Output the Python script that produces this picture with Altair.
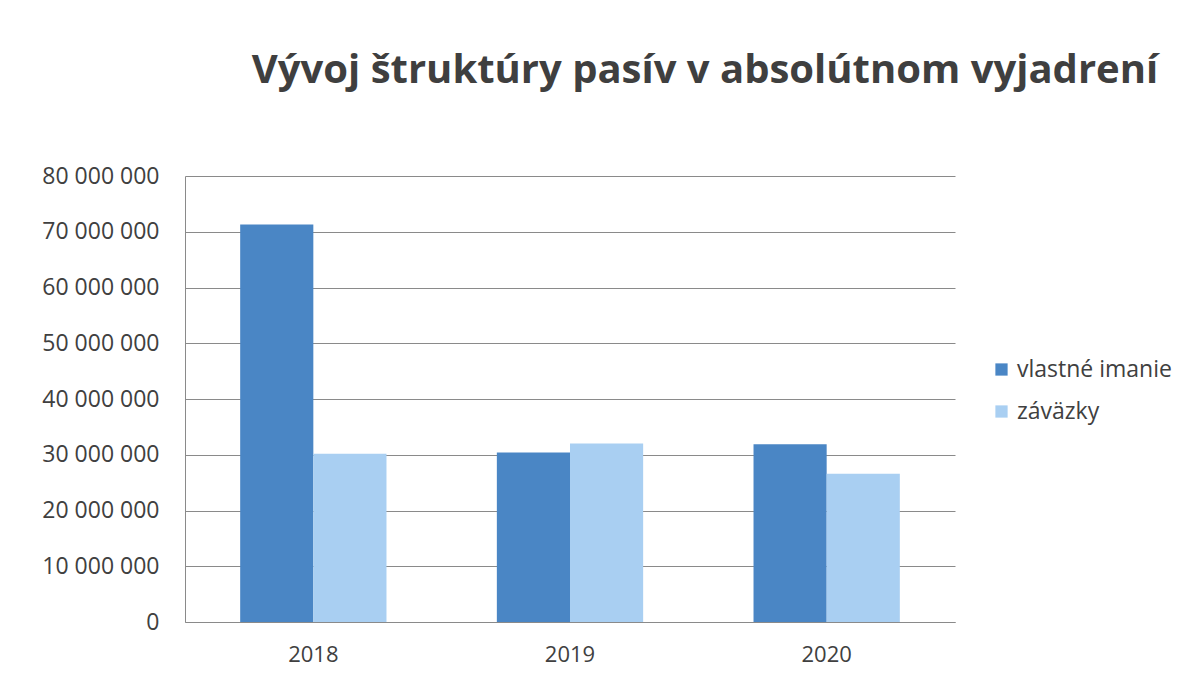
import altair as alt
import pandas as pd

years = ["2018", "2019", "2020"]
series_names = ["vlastné imanie", "záväzky"]
vlastne_imanie = [71300000, 30400000, 31900000]
zavazky = [30200000, 32000000, 26600000]
colors = ["#4A86C5", "#A9CFF2"]

rows = []
for i, y in enumerate(years):
    rows.append({"rok": y, "séria": series_names[0], "hodnota": vlastne_imanie[i]})
    rows.append({"rok": y, "séria": series_names[1], "hodnota": zavazky[i]})
df = pd.DataFrame(rows)

FONT = "Open Sans"

chart = alt.Chart(df).mark_bar().encode(
    x=alt.X("rok:N", sort=years, title=None,
            scale=alt.Scale(paddingInner=0.43, paddingOuter=0.215),
            axis=alt.Axis(labelAngle=0, ticks=False, domain=True, domainColor="#8a8a8a",
                          labelFontSize=22, labelColor="#404040", labelFont=FONT,
                          labelPadding=22, grid=False)),
    xOffset=alt.XOffset("séria:N", sort=series_names, scale=alt.Scale(paddingInner=0, paddingOuter=0)),
    y=alt.Y("hodnota:Q", title=None,
            scale=alt.Scale(domain=[0, 80000000]),
            axis=alt.Axis(values=list(range(0, 80000001, 10000000)),
                          labelExpr="replace(format(datum.value, ','), /,/g, ' ')",
                          labelFontSize=23, labelColor="#404040", labelFont=FONT,
                          labelPadding=26, ticks=False, domain=True, domainColor="#8a8a8a",
                          gridColor="#8a8a8a", gridWidth=1)),
    color=alt.Color("séria:N", sort=series_names,
                    scale=alt.Scale(domain=series_names, range=colors),
                    legend=alt.Legend(title=None, orient="none", legendX=805, legendY=182,
                                      symbolType="square", symbolSize=150, symbolStrokeWidth=0,
                                      labelFontSize=23, labelColor="#404040", labelFont=FONT,
                                      rowPadding=18, labelOffset=4)),
).properties(
    width=770,
    height=446,
    title=alt.TitleParams("Vývoj štruktúry pasív v absolútnom vyjadrení",
                          fontSize=40, font=FONT, fontWeight="bold", color="#3f3f3f",
                          anchor="middle", dx=135, offset=74),
    autosize=alt.AutoSizeParams(type="none"),
    padding={"left": 177, "top": 168, "right": 230, "bottom": 50},
    background="white",
).configure_view(stroke=None)

chart.save("out.html", embed_options={"renderer": "svg", "actions": False})
